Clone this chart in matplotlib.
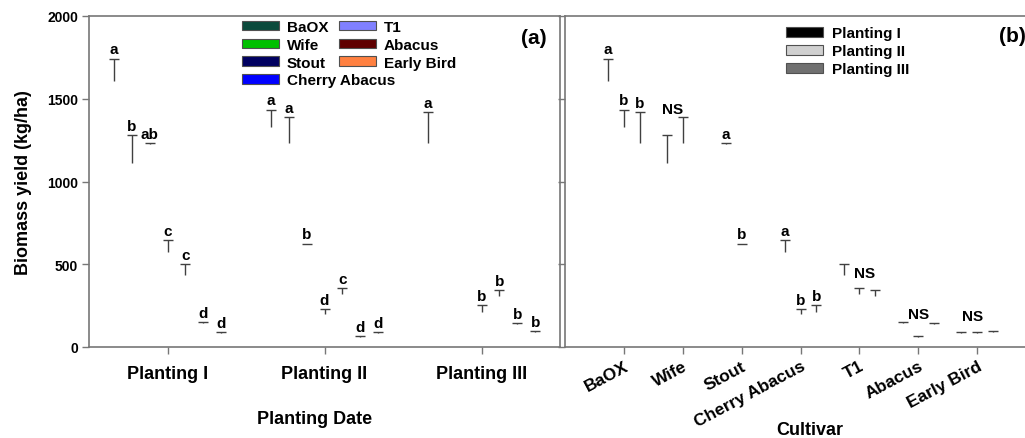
import numpy as np
import matplotlib
matplotlib.use("Agg")
import matplotlib.pyplot as plt
from matplotlib.patches import Patch

plt.rcParams["font.family"] = ["Liberation Sans", "DejaVu Sans"]
plt.rcParams["font.weight"] = "bold"
plt.rcParams["axes.labelweight"] = "bold"

# ---- data -------------------------------------------------------------
cultivars = ["BaOX", "Wife", "Stout", "Cherry Abacus", "T1", "Abacus", "Early Bird"]
plantings = ["Planting I", "Planting II", "Planting III"]

cultivar_colors = ["#0b4a3c", "#00c000", "#000060", "#0000ff",
                   "#8080ff", "#600000", "#ff8040"]
planting_colors = ["#000000", "#d0d0d0", "#707070"]

# mean biomass yield (kg/ha) and standard error per planting date
yield_p1 = [1606, 1110, 1225, 577, 436, 145, 86]
se_p1 = [137, 170, 6, 70, 64, 5, 4]
yield_p2 = [1329, 1232, 620, 201, 320, 61, 87]
se_p2 = [106, 157, 5, 26, 34, 3, 6]
yield_p3 = [1232, np.nan, np.nan, 211, 308, 136, 88]
se_p3 = [185, np.nan, np.nan, 42, 36, 9, 6]

# mean separation letters within each planting date (panel a)
letters_p1 = ["a", "b", "ab", "c", "c", "d", "d"]
letters_p2 = ["a", "a", "b", "d", "c", "d", "d"]
letters_p3 = ["a", "", "", "b", "b", "b", "b"]

# mean separation letters within each cultivar (panel b), by planting
letters_cv = [["a", "b", "b"], ["", "", ""], ["a", "b", ""], ["a", "b", "b"],
              ["", "", ""], ["", "", ""], ["", "", ""]]
ns_cultivars = ["Wife", "T1", "Abacus", "Early Bird"]

yticks = [0, 500, 1000, 1500, 2000]

# ---- helpers ----------------------------------------------------------
W, H = 1025, 439
fig = plt.figure(figsize=(W / 100, H / 100), dpi=100)


def frac(x0, y0, x1, y1):
    return [x0 / W, 1 - y1 / H, (x1 - x0) / W, (y1 - y0) / H]


ax_a = fig.add_axes(frac(89, 17, 560, 348))
ax_b = fig.add_axes(frac(565, 17, 1036, 348))

means = np.array([yield_p1, yield_p2, yield_p3], dtype=float)
ses = np.array([se_p1, se_p2, se_p3], dtype=float)
letters_date = [letters_p1, letters_p2, letters_p3]

ERR_COLOR = "#404040"
SPINE_COLOR = "#777777"


def upper_error(ax, x, m, s, capsize):
    x, m, s = map(np.asarray, (x, m, s))
    ok = np.isfinite(m) & np.isfinite(s)
    x, m, s = x[ok], m[ok], s[ok]
    _, caps, _ = ax.errorbar(x, m, yerr=[np.zeros_like(s), s], fmt="none",
                             ecolor=ERR_COLOR, elinewidth=1.0, capsize=capsize,
                             capthick=1.0)
    # only the upper cap is shown
    for c in caps:
        if np.allclose(c.get_ydata(), m):
            c.set_visible(False)


def letter(ax, x, y, txt):
    if txt:
        ax.annotate(txt, (x, y), xytext=(0, 1.5), textcoords="offset points",
                    ha="center", va="bottom", fontsize=11, fontweight="bold")


# ---- panel (a): grouped by planting date -------------------------------
n_cv = len(cultivars)
wa = 0.8 / n_cv
for i in range(len(plantings)):
    xs = i + (np.arange(n_cv) - (n_cv - 1) / 2) * wa
    upper_error(ax_a, xs, means[i], ses[i], capsize=3.4)
    for j in range(n_cv):
        if np.isfinite(means[i, j]):
            letter(ax_a, xs[j], means[i, j] + ses[i, j], letters_date[i][j])

ax_a.set_xlim(-0.5, 2.5)
ax_a.set_xticks(range(len(plantings)))
ax_a.set_xticklabels(plantings, fontsize=13)
ax_a.tick_params(axis="x", pad=8)
ax_a.set_xlabel("Planting Date", fontsize=13)
ax_a.xaxis.label.set_va("center")
ax_a.xaxis.set_label_coords(0.478, -0.215)
ax_a.set_ylabel("Biomass yield (kg/ha)", fontsize=13)
ax_a.yaxis.label.set_va("center")
ax_a.yaxis.set_label_coords(-0.14, 0.5)
ax_a.text(0.945, 0.935, "(a)", transform=ax_a.transAxes, fontsize=15,
          fontweight="bold", ha="center", va="center")

leg_handles = [Patch(facecolor=c, edgecolor="#505050", linewidth=0.8)
               for c in cultivar_colors]
leg_kw = dict(frameon=False, fontsize=11, handlelength=2.4, handleheight=0.6,
              handletextpad=0.55, labelspacing=0.25, borderpad=0,
              borderaxespad=0, loc="upper left", bbox_transform=fig.transFigure)
leg1 = ax_a.legend(leg_handles[:4], cultivars[:4],
                   bbox_to_anchor=(242 / W, 1 - 21 / H), **leg_kw)
ax_a.add_artist(leg1)
ax_a.legend(leg_handles[4:], cultivars[4:],
            bbox_to_anchor=(339 / W, 1 - 21 / H), **leg_kw)

# ---- panel (b): grouped by cultivar -------------------------------------
n_pl = len(plantings)
wb = 0.8 / n_pl
for i in range(n_pl):
    xs = np.arange(n_cv) + (i - (n_pl - 1) / 2) * wb
    upper_error(ax_b, xs, means[i], ses[i], capsize=3.5)
    for j in range(n_cv):
        if np.isfinite(means[i, j]):
            letter(ax_b, xs[j], means[i, j] + ses[i, j], letters_cv[j][i])

# "NS" labels placed beside each non-significant cluster
ns_offsets = {"Wife": (-0.18, 1395), "T1": (0.08, 405),
              "Abacus": (0.0, 158), "Early Bird": (-0.08, 144)}
for name in ns_cultivars:
    dx, yv = ns_offsets[name]
    ax_b.text(cultivars.index(name) + dx, yv, "NS", ha="center", va="bottom",
              fontsize=11, fontweight="bold")

ax_b.set_xlim(-1, 7)
ax_b.set_xticks(range(n_cv))
ax_b.set_xticklabels(cultivars, fontsize=12.5, rotation=28, ha="right",
                     rotation_mode="anchor")
ax_b.tick_params(axis="x", pad=3)
ax_b.set_xlabel("Cultivar", fontsize=13)
ax_b.xaxis.label.set_va("center")
ax_b.xaxis.set_label_coords(0.52, -0.25)
ax_b.set_yticklabels([])
ax_b.spines["right"].set_visible(False)
ax_b.text(1012 / W, 1 - 37 / H, "(b)", transform=fig.transFigure, fontsize=15,
          fontweight="bold", ha="center", va="center")

leg_p = [Patch(facecolor=c, edgecolor="#505050", linewidth=0.8)
         for c in planting_colors]
leg_kw2 = dict(leg_kw)
leg_kw2["handletextpad"] = 0.6
ax_b.legend(leg_p, plantings, bbox_to_anchor=(786 / W, 1 - 27.5 / H), **leg_kw2)

for ax in (ax_a, ax_b):
    ax.set_ylim(0, 2000)
    ax.set_yticks(yticks)
    for s in ax.spines.values():
        s.set_color(SPINE_COLOR)
        s.set_linewidth(1.2)
    ax.tick_params(length=5, width=1.0, color=SPINE_COLOR, direction="out")
    ax.tick_params(axis="y", labelsize=10, pad=3)
ax_a.set_yticklabels([str(v) for v in yticks])

fig.savefig("out.png", dpi=100)
